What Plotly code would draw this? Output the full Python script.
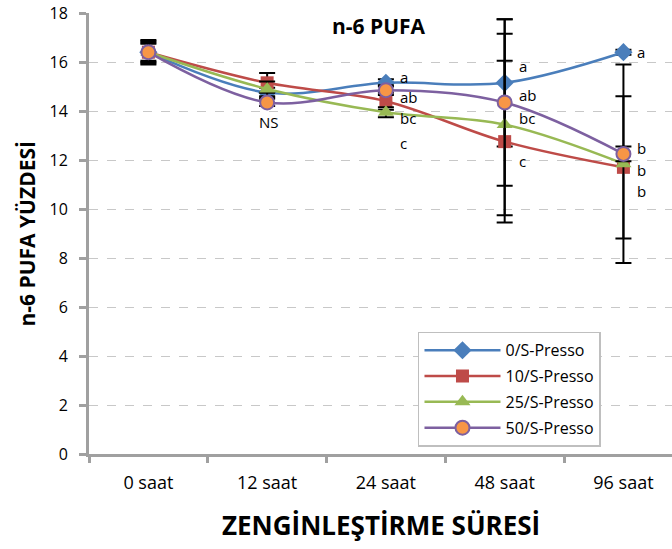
import plotly.graph_objects as go

categories = ["0 saat", "12 saat", "24 saat", "48 saat", "96 saat"]

series_names = ["0/S-Presso", "10/S-Presso", "25/S-Presso", "50/S-Presso"]
s0_vals = [16.4, 14.75, 15.15, 15.15, 16.4]
s10_vals = [16.4, 15.15, 14.4, 12.75, 11.7]
s25_vals = [16.4, 14.9, 13.95, 13.45, 11.85]
s50_vals = [16.4, 14.35, 14.85, 14.35, 12.25]

s0_err = [0.5, 0.2, 0.15, 2.6, 0.1]
s10_err = [0.45, 0.4, 0.35, 3.3, 2.9]
s25_err = [0.4, 0.3, 0.2, 3.7, 4.05]
s50_err = [0.35, 0.15, 0.2, 3.4, 0.3]

# significance letters: (category index, text, y value)
label_cat = [1, 2, 2, 2, 2, 3, 3, 3, 3, 4, 4, 4, 4]
label_text = ["NS", "a", "ab", "bc", "c", "a", "ab", "bc", "c", "a", "b", "b", "b"]
label_y = [13.54, 15.38, 14.57, 13.7, 12.68, 15.85, 14.65, 13.7, 11.96, 16.4, 12.47, 11.6, 10.73]

y_ticks = [0, 2, 4, 6, 8, 10, 12, 14, 16, 18]

FONT = "Open Sans"

styles = [
    dict(line="#4A7EBB", marker=dict(symbol="diamond", size=14, color="#4A7EBB")),
    dict(line="#BE4B48", marker=dict(symbol="square", size=13, color="#BE4B48")),
    dict(line="#98B954", marker=dict(symbol="triangle-up", size=14, color="#98B954")),
    dict(line="#7D60A0", marker=dict(symbol="circle", size=14, color="#F79646",
                                     line=dict(color="#7D60A0", width=2))),
]
vals = [s0_vals, s10_vals, s25_vals, s50_vals]
errs = [s0_err, s10_err, s25_err, s50_err]

fig = go.Figure()
for i, (name, v, e, st) in enumerate(zip(series_names, vals, errs, styles)):
    fig.add_trace(go.Scatter(
        x=categories, y=v, name=name, mode="lines+markers",
        legendgroup=f"g{i}",
        line=dict(color=st["line"], width=2.5, shape="spline"),
        marker=st["marker"],
        error_y=dict(type="data", array=e, visible=True, color="black",
                     thickness=2, width=8),
    ))

annotations = []
for c, t, yv in zip(label_cat, label_text, label_y):
    if t == "NS":
        annotations.append(dict(x=c, y=yv, xref="x", yref="y", text=t, showarrow=False,
                                xanchor="center", yanchor="middle", xshift=2,
                                font=dict(family=FONT, size=15, color="black")))
    else:
        annotations.append(dict(x=c, y=yv, xref="x", yref="y", text=t, showarrow=False,
                                xanchor="left", yanchor="middle", xshift=12,
                                font=dict(family=FONT, size=15, color="black")))

annotations += [
    dict(text="<b>n-6 PUFA</b>", x=0.497, y=0.9705, xref="paper", yref="paper",
         showarrow=False, xanchor="center", yanchor="middle",
         font=dict(family=FONT, size=21, color="black")),
    dict(text="<b>ZENGİNLEŞTİRME SÜRESİ</b>", x=0.5, y=-0.161, xref="paper", yref="paper",
         showarrow=False, xanchor="center", yanchor="middle",
         font=dict(family=FONT, size=26, color="black")),
    dict(text="<b>n-6 PUFA YÜZDESİ</b>", x=-0.107, y=0.499, xref="paper", yref="paper",
         showarrow=False, xanchor="center", yanchor="middle", textangle=-90,
         font=dict(family=FONT, size=21, color="black")),
]

fig.update_layout(
    width=672, height=549,
    margin=dict(l=89, r=0, t=13, b=95),
    paper_bgcolor="white", plot_bgcolor="white",
    font=dict(family=FONT, color="black"),
    showlegend=True,
    legend=dict(x=0.5643, y=0.277, xanchor="left", yanchor="top",
                bgcolor="white", bordercolor="#BFBFBF", borderwidth=1.5,
                font=dict(family=FONT, size=16, color="black"),
                itemwidth=76, tracegroupgap=2, traceorder="grouped",
                entrywidth=133, entrywidthmode="pixels"),
    annotations=annotations,
)
fig.update_xaxes(
    type="category", range=[-0.5, 4.409], tickson="boundaries",
    ticks="outside", ticklen=6, tickwidth=3, tickcolor="#A0A0A0",
    showline=True, linecolor="#A0A0A0", linewidth=3,
    showgrid=False, ticklabelstandoff=10,
    tickfont=dict(family=FONT, size=18, color="black"),
)
fig.update_yaxes(
    range=[0, 18], tickvals=y_ticks, ticktext=[str(t) for t in y_ticks],
    ticks="outside", ticklen=7, tickwidth=3, tickcolor="#A0A0A0",
    showline=True, linecolor="#A0A0A0", linewidth=3,
    showgrid=True, gridcolor="#C8C8C8", gridwidth=1, griddash="dash",
    zeroline=False, ticklabelstandoff=8,
    tickfont=dict(family=FONT, size=16, color="black"),
)

fig.write_html("out.html")
